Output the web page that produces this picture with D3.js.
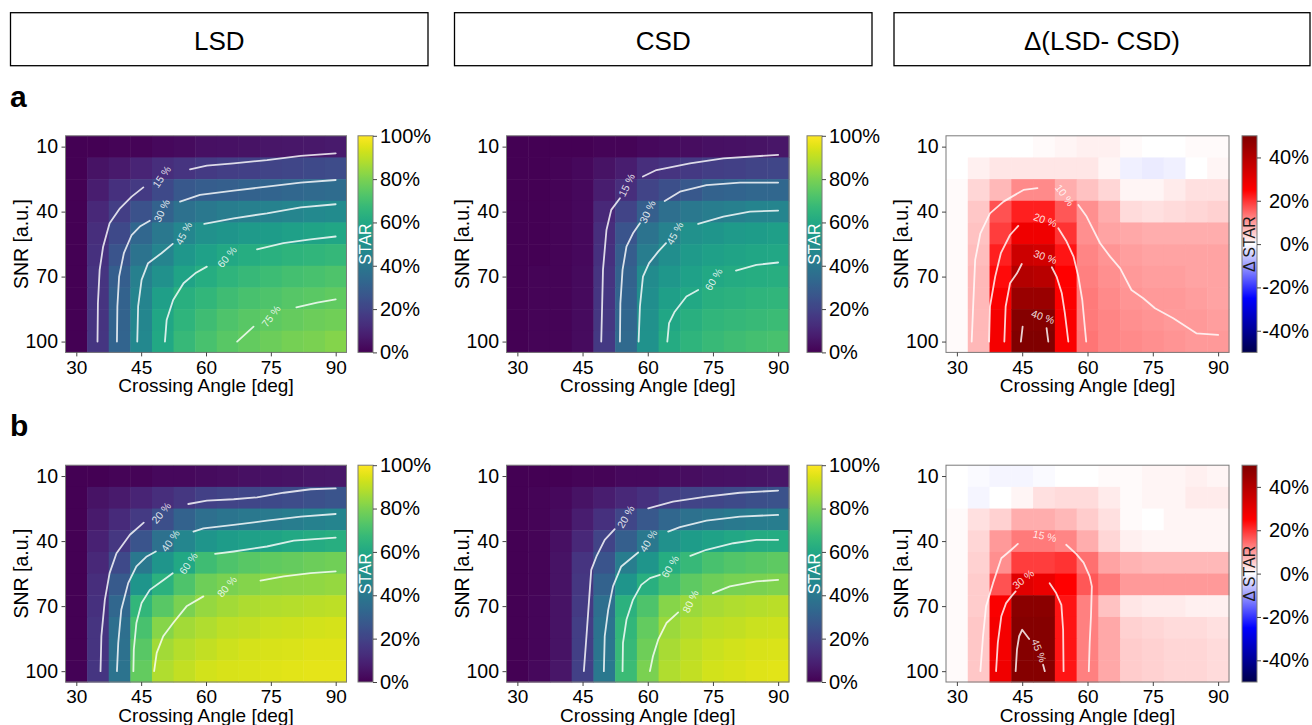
<!DOCTYPE html>
<html>
<head>
<meta charset="utf-8">
<script src="https://cdn.jsdelivr.net/npm/d3@7"></script>
<style>
  body { margin: 0; background: #fff; }
  svg { font-family: "Liberation Sans", Arial, Helvetica, sans-serif; }
</style>
</head>
<body>
<svg id="chart" width="1312" height="725"></svg>
<script>
// grid: crossing angle (deg) x SNR (a.u.)
var angles = [30, 35, 40, 45, 50, 55, 60, 65, 70, 75, 80, 85, 90];
var snrs = [10, 20, 30, 40, 50, 60, 70, 80, 90, 100];
var xTicks = [30, 45, 60, 75, 90];
var yTicks = [10, 40, 70, 100];
var starTicks = [0, 20, 40, 60, 80, 100];
var deltaTicks = [-40, -20, 0, 20, 40];
var columnTitles = ["LSD", "CSD", "\u0394(LSD- CSD)"];
var rowLetters = ["a", "b"];

// STAR in %, one row per SNR (10 -> 100), one column per angle (30 -> 90)
var lsdA = [
  [0, 0, 1, 1, 2, 3, 4, 4.5, 5, 5.5, 6, 6.5, 7],
  [0, 5, 7, 10, 13, 15, 17, 18, 19, 20, 21, 22, 23],
  [0, 8, 14, 17, 22, 27, 29, 30, 31, 32, 33, 34, 35],
  [0, 11, 18, 25, 31, 37, 40, 42, 43, 44, 45.5, 47, 48],
  [0, 13, 22, 33, 40, 46, 50, 52, 54, 55, 56.5, 58, 59],
  [0, 14, 26, 38, 45, 53, 57, 60, 62, 63.5, 64.5, 65.5, 66.5],
  [0, 15, 29.5, 43, 50, 58, 62, 65, 67, 68.5, 70, 71, 72],
  [0, 15, 31, 45, 56, 63, 66, 69, 71, 72, 73.5, 74.5, 75.5],
  [0, 15, 31.5, 46, 59, 65, 69, 72, 74, 75, 76.5, 77.5, 78.5],
  [0, 15.5, 32, 46.5, 60, 67, 71, 74, 76, 77.5, 79, 80, 81.5]
];
var csdA = [
  [0, 0, 0, 0, 1, 1, 2, 3, 3.5, 4, 4.5, 5, 5.5],
  [0, 0, 1, 2, 5, 8, 13, 15, 16.5, 18, 19, 20, 21],
  [0, 0, 1, 2, 8, 13, 20, 24, 27, 31, 32, 33, 33],
  [0, 0, 1, 2, 11, 20, 30, 36, 40, 42, 43, 45, 45.5],
  [0, 0, 1, 2, 13, 26, 38, 44, 50, 52, 54, 55, 56],
  [0, 0, 1, 2, 14, 29, 42, 49, 54, 56.5, 58, 59, 59.5],
  [0, 1, 1, 2.5, 15, 31, 48, 53, 57, 60, 61, 62, 62.5],
  [0, 1, 1, 2.5, 15.5, 32, 49, 56, 60, 63, 64, 65, 65.5],
  [0, 1, 1, 3, 16, 33, 50, 59, 63, 65.5, 66.5, 67.5, 68],
  [0, 1, 1, 3, 16.5, 34, 51, 61, 65, 67.5, 69, 70, 71]
];
var deltaA = [
  [0, 0, 0, 0, 0.5, 1, 1.5, 1.5, 0.5, 0, 0, 0.5, 0.5],
  [0, 1.5, 2.5, 2.5, 2.5, 2.5, 2.5, 1, -1.5, -2, -1.5, 0, 1],
  [0.5, 4, 7, 11.5, 11.5, 8, 6, 4, 1, 1, 2, 3, 3],
  [0.5, 5.5, 17, 22, 22, 16.5, 11, 8, 3.5, 3, 3.5, 4, 4.5],
  [0.5, 6, 19, 28, 28, 20, 11, 9, 8.5, 8, 8, 8, 8],
  [0.5, 6.5, 22, 35, 34, 23, 12, 10.5, 9.5, 9, 9, 9, 9],
  [0.5, 7, 24, 40, 39, 25, 12.5, 11, 10, 9.5, 9.5, 9, 9],
  [0.5, 7, 26, 45, 45, 25.5, 13, 11.5, 10.5, 10, 10, 9.5, 9],
  [0.5, 7, 27, 49, 49, 26, 13, 12, 11, 10.5, 10, 10, 9.5],
  [0.5, 7, 27, 50, 50, 26, 13.5, 12, 11.5, 11, 10.5, 10, 10]
];
var lsdB = [
  [0, 0, 1, 1, 2, 2, 3, 3.5, 4, 4.5, 5, 5.5, 6],
  [0, 5, 7, 10, 13, 16, 19, 20, 21, 22, 23, 24.5, 26],
  [0, 7, 12, 17, 24, 31, 36, 38.5, 40, 41, 42, 43.5, 45],
  [0, 9, 16, 26, 37, 46, 52, 55, 56.5, 58, 60, 61, 62.5],
  [0, 11, 22, 40, 52, 60, 69, 72, 74, 75.5, 76.5, 77.5, 78.5],
  [0, 13, 28, 52, 64, 72, 78, 80, 81.5, 82.5, 83, 83.5, 84],
  [0, 14, 33, 66, 74, 80, 84, 86, 87.5, 88.5, 89, 89.5, 90],
  [0, 15, 36, 71, 82, 86, 88, 90, 91, 92, 92.5, 93, 93.5],
  [0, 15, 37, 74, 86, 89, 91, 92.5, 93.5, 94, 94.5, 95, 95],
  [0.5, 15.5, 38, 76, 88, 91, 93, 94, 94.5, 95, 95.5, 96, 96]
];
var csdB = [
  [0, 0, 0, 1, 1, 2, 2, 3, 3.5, 4, 4.5, 5, 5.5],
  [0, 1, 2, 5, 8, 11, 14, 18, 20, 21, 22.5, 24, 25],
  [0, 1, 3, 8, 14, 21, 27, 33, 37, 39, 40.5, 41.5, 42],
  [0, 1, 4, 11, 20, 30, 40, 50, 55, 57.5, 59.5, 61, 61.5],
  [0, 1, 5, 15, 26, 42, 52, 62, 67, 71, 73, 74, 75],
  [0, 1, 5, 16, 31, 52, 63, 70, 75, 78, 79.5, 80, 80.5],
  [0, 1.5, 5, 17, 36, 64, 72, 82, 85, 87, 88, 89, 89.5],
  [0, 1.5, 5, 18, 38, 66, 76, 85, 88, 90, 91, 92, 92.5],
  [0, 1.5, 5, 18.5, 39, 67, 78, 87, 90, 92, 93, 94, 94.5],
  [0, 2, 5.5, 19, 40, 68, 80, 88, 91, 93, 94, 95, 95.5]
];
var deltaB = [
  [0, -0.5, -1, -1, -0.5, 0, 0, 0.5, 0.5, 1, 1, 1.5, 1],
  [0, -1, 0, 1, 3, 3.5, 3.5, 2, 0.5, 1, 1, 2, 2],
  [0.5, 3, 4.5, 8, 8, 7, 5, 3, 0.5, 0, 1, 1, 1],
  [0.5, 4, 10, 13, 13, 12, 8, 4, 1.5, 1, 1, 1, 1],
  [0.5, 4.5, 11, 19, 19, 20, 14, 9, 7.5, 7, 7, 7, 7],
  [0.5, 5, 17, 31, 29, 25, 16.5, 13, 10, 10, 10, 10, 10],
  [0.5, 5, 26, 48, 48, 23, 12.5, 6, 2.5, 2, 2, 1.5, 1.5],
  [0.5, 5.5, 27, 49, 49, 23, 12.5, 8.5, 4.5, 4, 3.5, 3.5, 3],
  [0.5, 5.5, 27, 49, 49, 23, 12.5, 8.5, 5, 4.5, 4, 4, 3.5],
  [0.5, 5.5, 28, 49, 49, 23, 12.5, 8.5, 5, 4.5, 4, 4, 3.5]
];

// contour lines as [angle, snr]; "hide" is the stretch under the inline label
var lsdALines = [
  {level: 15, a: [[34.9,100],[35.0,82.3],[35.4,66.9],[36.2,56.2],[37.7,45.4],[40.1,38.5],[42.8,33.1],[45.5,28.8]],
   hide: [[48.9,26.1],[49.7,23.8],[50.5,21.5]], b: [[56.3,20.5],[60.2,18.8],[66.4,17.7],[74.1,16.2],[81.9,14.3],[90,13.1]]},
  {level: 30, a: [[39.4,100],[39.5,83.8],[39.9,70],[41.0,59.2],[42.8,50.8],[44.7,46.9],[47.0,44.2]],
   hide: [[49.1,42.0],[49.7,39.5],[50.3,37.0]], b: [[54.0,35.4],[58.6,32.3],[66.4,30.3],[74.1,28.5],[81.9,26.6],[90,25.4]]},
  {level: 45, a: [[44.1,100],[44.3,83.8],[45.1,71.5],[46.6,63.8],[49.7,59.2],[52.3,54.9]],
   hide: [[54.2,52.5],[54.8,50],[55.5,47.6]], b: [[59.6,45.7],[66.4,43.1],[74.1,40.8],[81.9,38],[90,36.6]]},
  {level: 60, a: [[50.5,100],[50.9,90],[52.4,80.8],[54.8,73.1],[57.5,68.5],[60.2,65.4]],
   hide: [[63.9,63.0],[64.8,60.8],[65.7,58.7]], b: [[71.8,57.4],[77.9,54.6],[84.2,52.8],[90,51.5]]},
  {level: 75, a: [[67.2,100],[71.0,93.1]],
   hide: [[74.2,90.4],[75.0,88.2],[75.8,86.0]], b: [[80.9,84.2],[85.7,82],[90,80.5]]}
];
var csdALines = [
  {level: 15, a: [[49.3,100],[49.5,83.8],[49.7,66.9],[50.5,48.5],[51.6,39.2],[53.6,33.8]],
   hide: [[54.5,30.2],[55.1,27.7],[55.7,25.2]], b: [[58.9,23.8],[62.0,20.8],[69.7,17.7],[77.4,15.4],[90,13.8]]},
  {level: 30, a: [[53.6,100],[53.7,82.3],[54.2,66.9],[55.1,56.2],[56.6,50],[58.2,45.4]],
   hide: [[59.3,42.5],[59.9,40],[60.5,37.5]], b: [[63.9,35.1],[67.4,30.8],[73.5,27.8],[81.2,26.6],[90,26.6]]},
  {level: 45, a: [[57.9,100],[58.2,83.8],[58.9,70],[60.3,63.8],[62.4,58.5],[64.2,54.6]],
   hide: [[65.6,52.5],[66.2,50],[66.9,47.6]], b: [[71.6,45.7],[77.4,42.3],[83.5,40],[90,39.5]]},
  {level: 60, a: [[64.5,100],[64.9,91.5],[66.2,86.2],[68.9,79.2],[71.6,76.2]],
   hide: [[74.4,73.6],[75.1,71.2],[75.8,68.9]], b: [[80.3,67.2],[85.0,64.6],[90,63.5]]}
];
var deltaALines = [
  {level: 10, a: [[33.4,100],[33.7,85.4],[34.2,62.3],[35.4,50],[37.6,40.8],[40.7,35.4],[45.3,30],[48.5,29.2]],
   hide: [[54.0,30.1],[54.8,32.3],[55.6,34.5]],
   b: [[57.9,36.9],[59.8,42.3],[62.9,54.6],[65.2,60.8],[67.5,66.2],[70.1,76.2],[72.8,80],[75.5,84.6],[79.7,89.2],[85.0,96.2],[90,96.9]]},
  {level: 20, a: [[37.4,100],[37.6,83.8],[38.8,70],[40.1,59.2],[42.2,50.8],[44.1,46.6]],
   hide: [[49.0,42.9],[50.3,43.8],[51.6,44.7]], b: [[53.3,47.7],[55.2,53.8],[56.8,60.8],[57.9,70],[58.8,80.8],[59.7,100]]},
  {level: 30, a: [[40.9,100],[41.2,83.8],[42.2,73.1],[43.8,68.5],[44.9,64.2]],
   hide: [[49.0,59.9],[50.3,60.8],[51.6,61.7]], b: [[51.8,65.7],[52.9,70],[54.1,77.7],[54.8,86.9],[55.6,100]]},
  {level: 40, a: [[44.7,100],[45.1,93.1]],
   hide: [[48.5,87.6],[49.8,88.5],[51.1,89.4]], b: [[50.6,93.8],[51.0,100]]}
];
var lsdBLines = [
  {level: 20, a: [[35.6,100],[35.8,83.9],[36.6,67.1],[37.7,54.8],[39.3,45.6],[42.4,37.1],[45.6,31.5]],
   hide: [[48.7,29.1],[49.6,26.9],[50.5,24.8]], b: [[55.9,22.9],[60.2,21.3],[66.4,20.7],[71.8,19.8],[78.0,17.7],[84.2,16.1],[90,15.7]]},
  {level: 40, a: [[39.4,100],[39.7,87],[40.4,71.7],[42.0,59.4],[43.9,51.7],[46.3,47.1],[48.4,44.8]],
   hide: [[50.9,42.1],[51.7,39.8],[52.5,37.5]], b: [[57.1,35.6],[59.4,34.1],[66.4,32.5],[74.1,30.6],[81.9,28.7],[90,27.5]]},
  {level: 60, a: [[43.2,100],[43.3,90],[43.9,77.8],[45.1,68.6],[47.0,62.5],[49.7,58.6],[52.3,54.8]],
   hide: [[55.1,52.5],[55.9,50.2],[56.7,47.9]], b: [[62.1,45.9],[66.4,44.8],[74.1,42.5],[80.3,39.8],[90,38.4]]},
  {level: 80, a: [[48.0,100],[48.6,91.6],[50.1,83.9],[52.4,77.8],[55.5,70.1],[59.4,65.5]],
   hide: [[63.9,63.0],[64.8,60.9],[65.7,58.8]], b: [[72.6,58.2],[78.0,56.3],[84.2,54.8],[90,54]]}
];
var csdBLines = [
  {level: 20, a: [[45.3,100],[45.9,83.9],[46.5,67.1],[47.0,53.3],[48.2,47.1],[50.1,39.4],[52.4,34.5]],
   hide: [[54.2,31.1],[54.9,28.7],[55.6,26.3]], b: [[60.1,24.9],[65.8,21.8],[73.5,19.5],[81.2,17.7],[90,16.7]]},
  {level: 40, a: [[49.9,100],[50.1,83.9],[50.9,71.7],[52.0,60.9],[53.9,51.7],[55.7,48.7],[57.8,45.3]],
   hide: [[59.4,42.2],[60.1,39.8],[60.8,37.5]], b: [[64.7,35.6],[67.4,33.6],[73.5,30.6],[81.2,28.7],[90,27.9]]},
  {level: 60, a: [[54.2,100],[54.3,87],[55.1,76.3],[56.6,67.1],[58.5,60.2],[60.5,57.1],[62.8,55.6]],
   hide: [[64.4,54.1],[65.1,51.7],[65.8,49.3]], b: [[69.8,46.8],[73.5,44],[79.7,41],[85.0,39.4],[90,39.4]]},
  {level: 80, a: [[60.5,100],[61.2,93.1],[62.4,85.5],[64.3,77.8],[67.0,72.9]],
   hide: [[69.2,70.3],[69.8,67.8],[70.4,65.3]], b: [[75.0,64],[78.9,60.9],[85.0,58.6],[90,57.9]]}
];
var deltaBLines = [
  {level: 15, a: [[35.4,100],[36.0,83.9],[36.7,70.1],[38.3,59.4],[40.2,47.9],[42.5,44],[44.0,41.3]],
   hide: [[48.8,37.0],[50.2,37.6],[51.6,38.2]],
   b: [[55.1,41.7],[57.4,45.9],[59.1,49.9],[60.5,56.3],[61.0,60.9],[60.8,74.7],[60.5,87],[60.3,100]]},
  {level: 30, a: [[39.0,100],[39.4,87],[40.2,74.7],[41.3,68.6],[42.5,65.5],[43.5,63.2]],
   hide: [[44.1,59.3],[45.2,57.5],[46.3,55.7]], b: [[51.3,59.4],[52.8,64],[54.0,69.4],[54.4,80.9],[54.5,100]]},
  {level: 45, a: [[43.5,100],[43.8,90.1],[44.3,83.9],[45.0,80.9],[46.6,85.2]],
   hide: [[48.4,87.9],[48.9,90.5],[49.4,93.1]], b: [[49.8,97],[50.2,100]]}
];

var grids = [[lsdA, csdA, deltaA], [lsdB, csdB, deltaB]];
var lineSets = [[lsdALines, csdALines, deltaALines], [lsdBLines, csdBLines, deltaBLines]];

// layout
var cols = [
  {x0: 65.5, x1: 346.5, cb0: 358, cb1: 373, box: [10.5, 428]},
  {x0: 506.5, x1: 789, cb0: 807, cb1: 822, box: [454.5, 872]},
  {x0: 946, x1: 1229, cb0: 1242, cb1: 1257, box: [894, 1310]}
];
var rows = [
  {y0: 135.8, y1: 352.4, letterY: 107},
  {y0: 465.2, y1: 682, letterY: 436}
];

var svg = d3.select("#chart");
var defs = svg.append("defs");

var starColor = v => d3.interpolateViridis(v / 100);
var deltaColor = d3.scaleLinear()
    .domain([-50, -25, 0, 25, 50])
    .range(["#00004c", "#0000ff", "#ffffff", "#ff0000", "#800000"])
    .clamp(true);

function addGradient(id, color, lo, hi) {
  var grad = defs.append("linearGradient").attr("id", id)
      .attr("x1", 0).attr("y1", 1).attr("x2", 0).attr("y2", 0);
  d3.range(0, 1.0001, 0.025).forEach(t => {
    grad.append("stop").attr("offset", t).attr("stop-color", color(lo + t * (hi - lo)));
  });
}
addGradient("gradStar", starColor, 0, 100);
addGradient("gradDelta", deltaColor, -50, 50);

// column titles
cols.forEach((c, i) => {
  svg.append("rect")
     .attr("x", c.box[0]).attr("y", 12.7)
     .attr("width", c.box[1] - c.box[0]).attr("height", 53)
     .attr("fill", "none").attr("stroke", "#000").attr("stroke-width", 1.3);
  svg.append("text")
     .attr("x", (c.box[0] + c.box[1]) / 2).attr("y", 50)
     .attr("text-anchor", "middle").attr("font-size", 26)
     .text(columnTitles[i]);
});

rows.forEach((r, i) => {
  svg.append("text").attr("x", 10).attr("y", r.letterY)
     .attr("font-size", 30).attr("font-weight", "bold")
     .text(rowLetters[i]);
});

var line = d3.line();

function styleAxis(sel, size) {
  sel.attr("font-size", size).attr("font-family", null).attr("color", "#000");
  sel.select(".domain").remove();
  sel.selectAll(".tick line").attr("stroke", "#444");
}

rows.forEach((r, ri) => {
  cols.forEach((c, ci) => {
    var grid = grids[ri][ci];
    var isDelta = ci === 2;
    var color = isDelta ? deltaColor : starColor;
    var g = svg.append("g");

    var x = d3.scaleLinear().domain([27.5, 92.5]).range([c.x0, c.x1]);
    var y = d3.scaleLinear().domain([5, 105]).range([r.y0, r.y1]);

    var cells = [];
    grid.forEach((rowVals, i) => rowVals.forEach((v, j) => {
      cells.push({a: angles[j], s: snrs[i], v: v});
    }));

    g.selectAll("rect.cell")
     .data(cells)
     .join("rect")
     .attr("class", "cell")
     .attr("x", d => x(d.a - 2.5))
     .attr("y", d => y(d.s - 5))
     .attr("width", d => x(d.a + 2.5) - x(d.a - 2.5) + 0.5)
     .attr("height", d => y(d.s + 5) - y(d.s - 5) + 0.5)
     .attr("fill", d => color(d.v));

    // contours with inline labels
    line.x(d => x(d[0])).y(d => y(d[1]));
    lineSets[ri][ci].forEach(ct => {
      [ct.a, ct.b].forEach(p => {
        g.append("path").attr("d", line(p))
         .attr("fill", "none").attr("stroke", "#fff")
         .attr("stroke-opacity", 0.82).attr("stroke-width", 1.8)
         .attr("stroke-linejoin", "round").attr("stroke-linecap", "round");
      });
      var h0 = ct.hide[0], m = ct.hide[1], h1 = ct.hide[2];
      var ang = Math.atan2(y(h1[1]) - y(h0[1]), x(h1[0]) - x(h0[0])) * 180 / Math.PI;
      if (ang > 90) ang -= 180;
      if (ang < -90) ang += 180;
      g.append("text")
       .attr("transform", `translate(${x(m[0])},${y(m[1])}) rotate(${ang})`)
       .attr("text-anchor", "middle").attr("dominant-baseline", "central")
       .attr("font-size", 10.5).attr("fill", "#fff").attr("fill-opacity", 0.85)
       .text(ct.level + " %");
    });

    // frame
    g.append("rect")
     .attr("x", c.x0).attr("y", r.y0)
     .attr("width", c.x1 - c.x0).attr("height", r.y1 - r.y0)
     .attr("fill", "none").attr("stroke", "#7a7a7a").attr("stroke-width", 1);

    g.append("g")
     .attr("transform", `translate(0,${r.y1})`)
     .call(d3.axisBottom(x).tickValues(xTicks).tickSize(4).tickPadding(4))
     .call(s => styleAxis(s, 19));

    g.append("g")
     .attr("transform", `translate(${c.x0},0)`)
     .call(d3.axisLeft(y).tickValues(yTicks).tickSize(4).tickPadding(3.5))
     .call(s => styleAxis(s, 19.5));

    g.append("text")
     .attr("x", (c.x0 + c.x1) / 2).attr("y", r.y1 + 40)
     .attr("text-anchor", "middle").attr("font-size", 19)
     .text("Crossing Angle [deg]");

    g.append("text")
     .attr("transform", `translate(${c.x0 - 45},${(r.y0 + r.y1) / 2}) rotate(-90)`)
     .attr("text-anchor", "middle").attr("dominant-baseline", "central")
     .attr("font-size", 19.5)
     .text("SNR [a.u.]");

    // colorbar
    var cb = d3.scaleLinear()
        .domain(isDelta ? [-50, 50] : [0, 100])
        .range([r.y1, r.y0]);
    g.append("rect")
     .attr("x", c.cb0).attr("y", r.y0)
     .attr("width", c.cb1 - c.cb0).attr("height", r.y1 - r.y0)
     .attr("fill", isDelta ? "url(#gradDelta)" : "url(#gradStar)")
     .attr("stroke", "#7a7a7a").attr("stroke-width", 1);

    var cbAxis = g.append("g")
     .attr("transform", `translate(${c.cb1},0)`)
     .call(d3.axisRight(cb).tickValues(isDelta ? deltaTicks : starTicks)
                           .tickSize(4).tickPadding(3).tickFormat(d => d + "%"))
     .call(s => styleAxis(s, 20));
    if (isDelta) {
      cbAxis.selectAll(".tick text").attr("text-anchor", "end").attr("x", 1309 - c.cb1);
    }

    g.append("text")
     .attr("transform", `translate(${(c.cb0 + c.cb1) / 2},${(r.y0 + r.y1) / 2}) rotate(-90)`)
     .attr("text-anchor", "middle").attr("dominant-baseline", "central")
     .attr("font-size", 16)
     .attr("fill", isDelta ? "#1a1a1a" : "#fff")
     .text(isDelta ? "\u0394 STAR" : "STAR");
  });
});
</script>
</body>
</html>
